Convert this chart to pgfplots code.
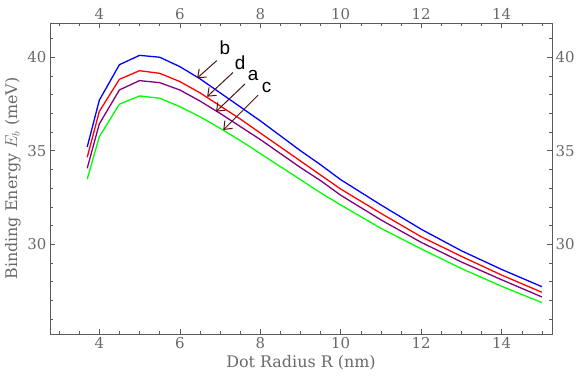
\documentclass[border=0pt]{standalone}
\usepackage{fontspec}
\setmainfont{DejaVu Serif}
\newfontfamily\lblfont{Liberation Sans}
\usepackage{pgfplots}
\pgfplotsset{compat=1.18}
\usetikzlibrary{arrows.meta}

\definecolor{framegray}{RGB}{90,90,90}
\definecolor{textgray}{RGB}{105,105,105}
\definecolor{arrowbrown}{RGB}{85,20,20}
\definecolor{mpurple}{RGB}{128,0,128}

\pgfplotsset{
  frameaxis/.style={
    scale only axis, width=502bp, height=311bp,
    xmin=2.775, xmax=15.25, ymin=25.2, ymax=41.83,
    xtick={4,6,...,14}, ytick={30,35,40},
    minor xtick={3,3.5,...,15}, minor ytick={26,...,41},
    tick align=inside,
    major tick length=5bp, minor tick length=3bp,
    axis line style={framegray, line width=0.6bp},
    tick style={framegray, line width=0.5bp},
    tick label style={font=\fontsize{15}{17}\selectfont, text=textgray},
    /pgf/number format/assume math mode=true,
  },
  curve/.style={line width=1.3bp},
}
\tikzset{
  myarrow/.style={arrowbrown, line width=1bp, -{Straight Barb[length=7bp,width=11bp]}},
  mylbl/.style={anchor=base, font=\lblfont\fontsize{19}{21}\selectfont, text=black},
}

\begin{document}
\begin{tikzpicture}
\begin{axis}[
  frameaxis,
  xlabel={Dot Radius R (nm)},
  ylabel={Binding Energy $E_b$ (meV)},
  label style={font=\fontsize{16}{18}\selectfont, text=textgray},
]
% a: purple, b: blue, c: green, d: red
\addplot[blue, curve] coordinates {
  (3.7,35.2) (4.0,37.7) (4.5,39.6) (5.0,40.1) (5.5,40.0) (6.0,39.5)
  (6.5,38.85) (7.0,38.1) (7.5,37.35) (8.0,36.6) (8.5,35.8) (9.0,35.0)
  (9.5,34.25) (10.0,33.45) (11.0,32.1) (12.0,30.8) (13.0,29.65)
  (14.0,28.65) (15.0,27.73)
};
\addplot[red, curve] coordinates {
  (3.7,34.65) (4.0,37.1) (4.5,38.82) (5.0,39.28) (5.5,39.14) (6.0,38.7)
  (6.5,38.1) (7.0,37.4) (7.5,36.7) (8.0,35.95) (8.5,35.2) (9.0,34.45)
  (9.5,33.7) (10.0,32.95) (11.0,31.65) (12.0,30.4) (13.0,29.35)
  (14.0,28.35) (15.0,27.43)
};
\addplot[mpurple, curve] coordinates {
  (3.7,34.06) (4.0,36.43) (4.5,38.25) (5.0,38.75) (5.5,38.64) (6.0,38.25)
  (6.5,37.66) (7.0,37.0) (7.5,36.3) (8.0,35.6) (8.5,34.85) (9.0,34.1)
  (9.5,33.4) (10.0,32.62) (11.0,31.3) (12.0,30.1) (13.0,29.05)
  (14.0,28.1) (15.0,27.18)
};
\addplot[green, curve] coordinates {
  (3.7,33.48) (4.0,35.75) (4.5,37.49) (5.0,37.93) (5.5,37.81) (6.0,37.36)
  (6.5,36.82) (7.0,36.2) (7.5,35.55) (8.0,34.85) (8.5,34.15) (9.0,33.45)
  (9.5,32.75) (10.0,32.1) (11.0,30.85) (12.0,29.75) (13.0,28.7)
  (14.0,27.75) (15.0,26.88)
};

\draw[myarrow] (axis cs:6.92,39.82) -- (axis cs:6.43,38.88);
\draw[myarrow] (axis cs:7.32,39.18) -- (axis cs:6.68,37.89);
\draw[myarrow] (axis cs:7.62,38.57) -- (axis cs:6.90,37.09);
\draw[myarrow] (axis cs:7.95,37.98) -- (axis cs:7.08,36.11);
\node[mylbl] at (axis cs:7.12,40.12) {b};
\node[mylbl] at (axis cs:7.50,39.37) {d};
\node[mylbl] at (axis cs:7.82,38.73) {a};
\node[mylbl] at (axis cs:8.16,38.11) {c};

\coordinate (sw) at (rel axis cs:0,0);
\coordinate (ne) at (rel axis cs:1,1);
\end{axis}
\begin{axis}[
  frameaxis,
  xticklabel pos=upper,
  yticklabel pos=right,
]
\end{axis}
\pgfresetboundingbox
\path[use as bounding box] ([shift={(-50bp,-50bp)}]sw) rectangle ([shift={(24bp,23bp)}]ne);
\end{tikzpicture}
\end{document}
